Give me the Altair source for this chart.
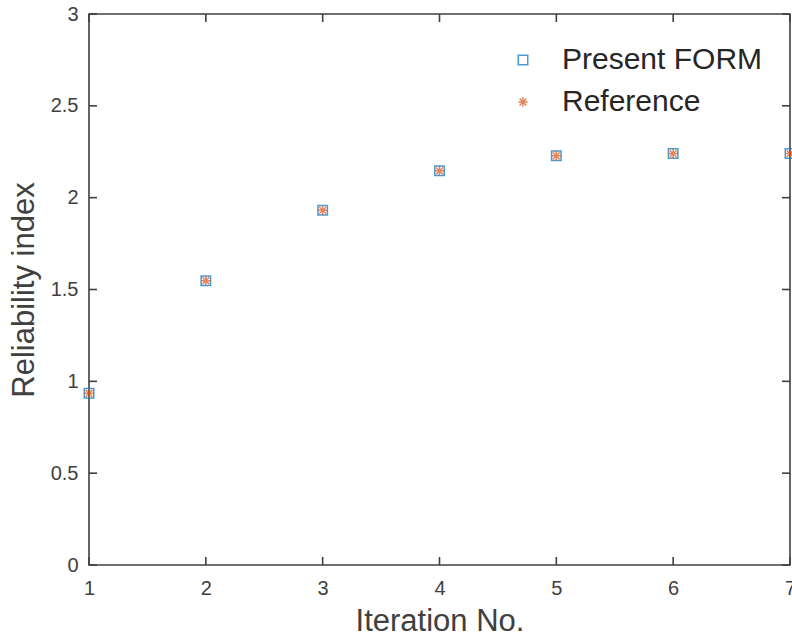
import altair as alt
import pandas as pd

iterations = [1, 2, 3, 4, 5, 6, 7]
present_form = [0.935, 1.548, 1.931, 2.146, 2.228, 2.240, 2.240]
reference = [0.935, 1.548, 1.931, 2.146, 2.228, 2.240, 2.240]
series_names = ["Present FORM", "Reference"]
x_ticks = [1, 2, 3, 4, 5, 6, 7]
y_ticks = [0, 0.5, 1, 1.5, 2, 2.5, 3]

W, H = 701, 551
AX = "#404040"
FONT = "Liberation Sans"
ASTERISK = "M-1,0L1,0M0,-1L0,1M-0.72,-0.72L0.72,0.72M-0.72,0.72L0.72,-0.72"

rows = []
for name, vals in zip(series_names, [present_form, reference]):
    for it, v in zip(iterations, vals):
        rows.append({"iter": it, "beta": v, "series": name})
df = pd.DataFrame(rows)

xs = alt.Scale(domain=[1, 7], nice=False, zero=False)
ys = alt.Scale(domain=[0, 3], nice=False)

leg = alt.Legend(title=None, orient="none", legendX=419, legendY=31,
                 labelFont=FONT, labelFontSize=30, labelColor="#262626", labelLimit=0,
                 labelOffset=24, rowPadding=12, symbolStrokeWidth=1.5,
                 symbolSize=90, padding=0)

points = alt.Chart(df).mark_point(filled=False, strokeWidth=1.5, size=90, clip=False).encode(
    x=alt.X("iter:Q", scale=xs, title="Iteration No.",
            axis=alt.Axis(values=x_ticks, format="~g", ticks=False, domain=False, grid=False,
                          labelFlush=False,
                          labelFont=FONT, labelFontSize=20, labelColor=AX, labelPadding=13,
                          titleFont=FONT, titleFontSize=31, titleFontWeight="normal",
                          titleColor=AX, titlePadding=8)),
    y=alt.Y("beta:Q", scale=ys, title="Reliability index",
            axis=alt.Axis(values=y_ticks, format="~g", ticks=False, domain=False, grid=False,
                          labelFlush=False,
                          labelFont=FONT, labelFontSize=20, labelColor=AX, labelPadding=11,
                          titleFont=FONT, titleFontSize=31, titleFontWeight="normal",
                          titleColor=AX, titlePadding=10)),
    color=alt.Color("series:N", scale=alt.Scale(domain=series_names, range=["#0072BD", "#D95319"]),
                    legend=leg),
    shape=alt.Shape("series:N", scale=alt.Scale(domain=series_names, range=["square", ASTERISK]),
                    legend=leg),
)

xt = pd.DataFrame({"t": x_ticks})
yt = pd.DataFrame({"t": y_ticks})
TL = 8
rule = dict(color=AX, strokeWidth=1.6)
xb = alt.Chart(xt).mark_rule(**rule).encode(
    x=alt.X("t:Q", scale=xs), x2="t:Q", y=alt.value(H), y2=alt.value(H - TL))
xtop = alt.Chart(xt).mark_rule(**rule).encode(
    x=alt.X("t:Q", scale=xs), x2="t:Q", y=alt.value(0), y2=alt.value(TL))
yl = alt.Chart(yt).mark_rule(**rule).encode(
    y=alt.Y("t:Q", scale=ys), y2="t:Q", x=alt.value(0), x2=alt.value(TL))
yr = alt.Chart(yt).mark_rule(**rule).encode(
    y=alt.Y("t:Q", scale=ys), y2="t:Q", x=alt.value(W - TL), x2=alt.value(W))

chart = alt.layer(xb, xtop, yl, yr, points).properties(
    width=W, height=H,
    autosize=alt.AutoSizeParams(type="none"),
    padding={"left": 89, "top": 14, "right": 2, "bottom": 77},
    background="white",
).configure_view(stroke=AX, strokeWidth=1.6)

chart.save("out.html", embed_options={"renderer": "svg", "actions": False})
